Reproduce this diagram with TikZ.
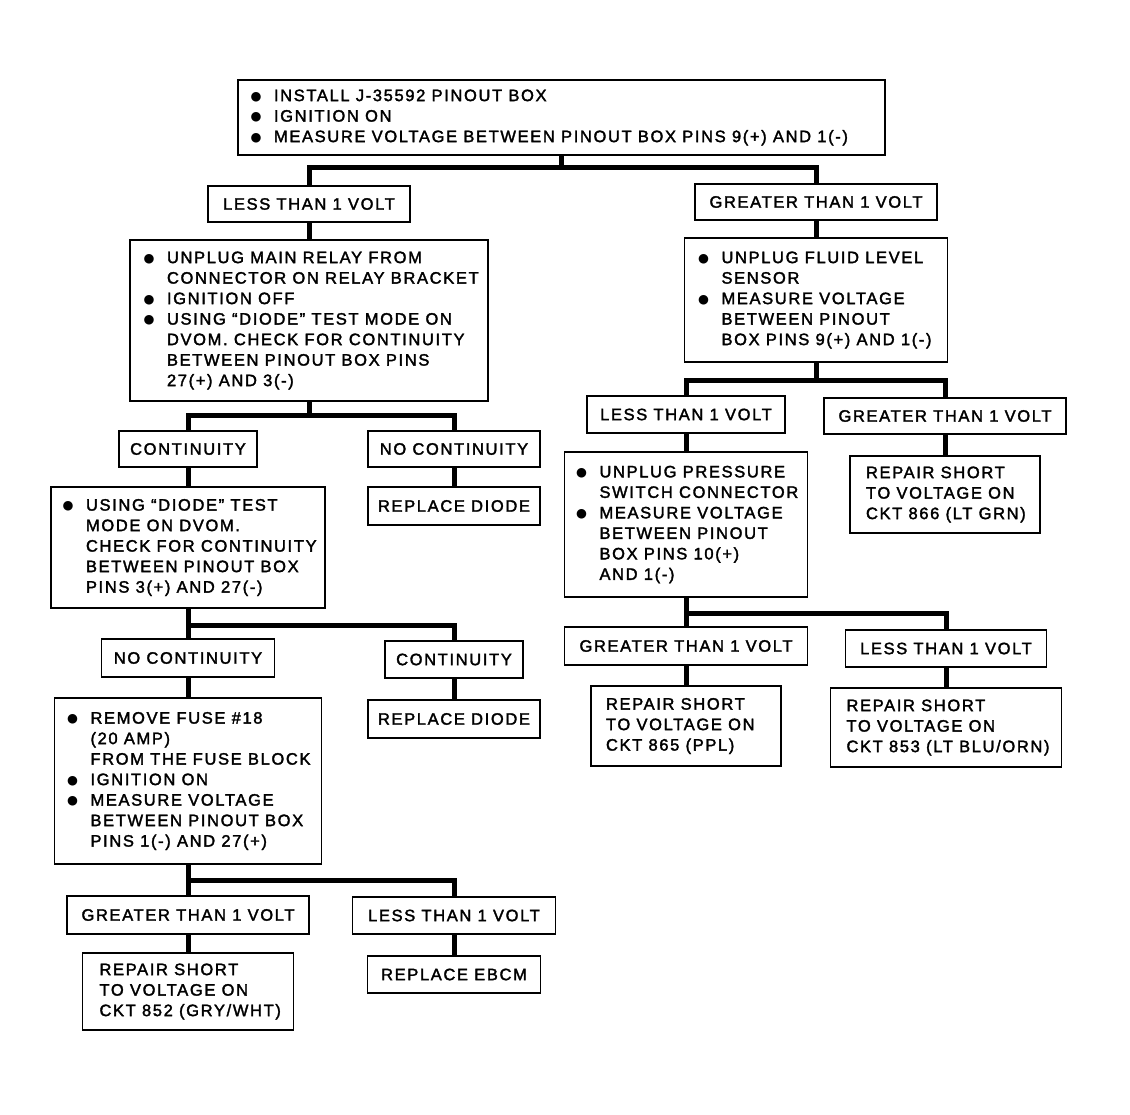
\documentclass[tikz,border=0pt]{standalone}
\usepackage{fontspec}
\setmainfont{Liberation Sans}[LetterSpace=10,FakeBold=2]
\newfontfamily\bulfont{DejaVu Sans}
\newcommand\bul{\llap{{\bulfont\fontsize{12.5}{12}\selectfont\raisebox{1pt}{●}}\hspace{12.5pt}}}
\newcommand\mlines[2]{\raisebox{-1.5pt}{\makebox[#1][l]{\begin{tabular}{@{}l@{}}#2\end{tabular}}}}
\tikzset{
  box/.style={draw, line width=1.6pt, inner sep=0pt, align=center,
    font=\fontsize{16.5}{20.5}\selectfont},
  conn/.style={line width=5pt, line join=miter},
}
\begin{document}
\begin{tikzpicture}[x=1pt,y=-1pt]
\useasboundingbox (0,0) rectangle (1130,1115);
% bar levels
\coordinate (b1) at (0,168);
\coordinate (b2) at (0,415);
\coordinate (b3) at (0,625);
\coordinate (b4) at (0,880);
\coordinate (b5) at (0,380);
\coordinate (b6) at (0,613);

\node[box, minimum width=647pt, minimum height=75pt] (top) at (561.5,117.5)
  {\mlines{575pt}{\bul INSTALL J-35592 PINOUT BOX\\ \bul IGNITION ON\\ \bul MEASURE VOLTAGE BETWEEN PINOUT BOX PINS 9(+) AND 1(-)}};

\node[box, minimum width=202pt, minimum height=36pt] (L1) at (309,204) {LESS THAN 1 VOLT};
\node[box, minimum width=242pt, minimum height=36pt] (G1) at (816,202) {GREATER THAN 1 VOLT};

\node[box, minimum width=358pt, minimum height=161pt] (A) at (309,320.5)
  {\mlines{284pt}{\bul UNPLUG MAIN RELAY FROM\\ CONNECTOR ON RELAY BRACKET\\ \bul IGNITION OFF\\ \bul USING ``DIODE'' TEST MODE ON\\ DVOM. CHECK FOR CONTINUITY\\ BETWEEN PINOUT BOX PINS\\ 27(+) AND 3(-)}};

\node[box, minimum width=263pt, minimum height=124pt] (R1) at (816,300)
  {\mlines{189pt}{\bul UNPLUG FLUID LEVEL\\ SENSOR\\ \bul MEASURE VOLTAGE\\ BETWEEN PINOUT\\ BOX PINS 9(+) AND 1(-)}};

\node[box, minimum width=138pt, minimum height=36pt] (C1) at (188,449) {CONTINUITY};
\node[box, minimum width=172pt, minimum height=36pt] (NC1) at (454,449) {NO CONTINUITY};

\node[box, minimum width=274pt, minimum height=121pt] (B) at (188,547.5)
  {\mlines{204pt}{\bul USING ``DIODE'' TEST\\ MODE ON DVOM.\\ CHECK FOR CONTINUITY\\ BETWEEN PINOUT BOX\\ PINS 3(+) AND 27(-)}};
\node[box, minimum width=172pt, minimum height=38pt] (RD1) at (454,506) {REPLACE DIODE};

\node[box, minimum width=173pt, minimum height=38pt] (NC2) at (188,658) {NO CONTINUITY};
\node[box, minimum width=138pt, minimum height=37pt] (C2) at (454,659.5) {CONTINUITY};

\node[box, minimum width=267pt, minimum height=166pt] (C) at (188,781)
  {\mlines{195pt}{\bul REMOVE FUSE \#18\\ (20 AMP)\\ FROM THE FUSE BLOCK\\ \bul IGNITION ON\\ \bul MEASURE VOLTAGE\\ BETWEEN PINOUT BOX\\ PINS 1(-) AND 27(+)}};
\node[box, minimum width=172pt, minimum height=38pt] (RD2) at (454,719) {REPLACE DIODE};

\node[box, minimum width=242pt, minimum height=38pt] (G4) at (188,915) {GREATER THAN 1 VOLT};
\node[box, minimum width=203pt, minimum height=37pt] (L4) at (454,915.5) {LESS THAN 1 VOLT};
\node[box, minimum width=211pt, minimum height=77pt] (S852) at (188,991.5)
  {\mlines{177pt}{REPAIR SHORT\\ TO VOLTAGE ON\\ CKT 852 (GRY/WHT)}};
\node[box, minimum width=173pt, minimum height=37pt] (EB) at (454,974.5) {REPLACE EBCM};

\node[box, minimum width=198pt, minimum height=37pt] (L2) at (686,414.5) {LESS THAN 1 VOLT};
\node[box, minimum width=242pt, minimum height=36pt] (G2) at (945,416) {GREATER THAN 1 VOLT};
\node[box, minimum width=243pt, minimum height=145pt] (R2) at (686,524.5)
  {\mlines{173pt}{\bul UNPLUG PRESSURE\\ SWITCH CONNECTOR\\ \bul MEASURE VOLTAGE\\ BETWEEN PINOUT\\ BOX PINS 10(+)\\ AND 1(-)}};
\node[box, minimum width=190pt, minimum height=77pt] (S866) at (945,494.5)
  {\mlines{158pt}{REPAIR SHORT\\ TO VOLTAGE ON\\ CKT 866 (LT GRN)}};

\node[box, minimum width=243pt, minimum height=38pt] (G3) at (686,646) {GREATER THAN 1 VOLT};
\node[box, minimum width=201pt, minimum height=37pt] (L3) at (946,648.5) {LESS THAN 1 VOLT};
\node[box, minimum width=190pt, minimum height=80pt] (S865) at (686,726)
  {\mlines{160pt}{REPAIR SHORT\\ TO VOLTAGE ON\\ CKT 865 (PPL)}};
\node[box, minimum width=231pt, minimum height=79pt] (S853) at (946,727.5)
  {\mlines{199pt}{REPAIR SHORT\\ TO VOLTAGE ON\\ CKT 853 (LT BLU/ORN)}};

% connectors
\draw[conn] (top.south) -- (top.south |- b1);
\draw[conn] (L1.north) |- (G1.north |- b1) -- (G1.north);
\draw[conn] (L1.south) -- (A.north);
\draw[conn] (G1.south) -- (R1.north);

\draw[conn] (A.south) -- (A.south |- b2);
\draw[conn] (C1.north) |- (NC1.north |- b2) -- (NC1.north);
\draw[conn] (C1.south) -- (B.north);
\draw[conn] (NC1.south) -- (RD1.north);

\draw[conn] (B.south) -- (NC2.north);
\draw[conn] (B.south |- b3) -| (C2.north);
\draw[conn] (NC2.south) -- (C.north);
\draw[conn] (C2.south) -- (RD2.north);

\draw[conn] (C.south) -- (G4.north);
\draw[conn] (C.south |- b4) -| (L4.north);
\draw[conn] (G4.south) -- (S852.north);
\draw[conn] (L4.south) -- (EB.north);

\draw[conn] (R1.south) -- (R1.south |- b5);
\draw[conn] (L2.north) |- (G2.north |- b5) -- (G2.north);
\draw[conn] (L2.south) -- (R2.north);
\draw[conn] (G2.south) -- (S866.north);

\draw[conn] (R2.south) -- (G3.north);
\draw[conn] (R2.south |- b6) -| (L3.north);
\draw[conn] (G3.south) -- (S865.north);
\draw[conn] (L3.south) -- (S853.north);
\end{tikzpicture}
\end{document}
